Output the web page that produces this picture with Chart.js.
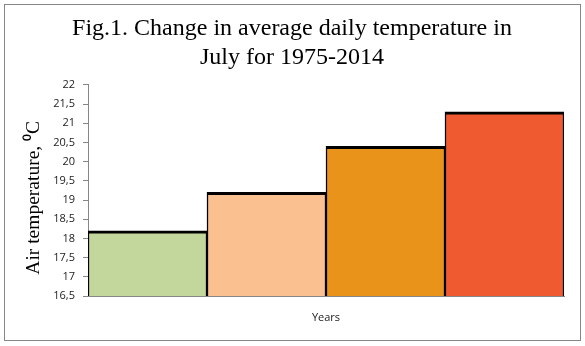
<!DOCTYPE html>
<html>
<head>
<meta charset="utf-8">
<script src="https://cdn.jsdelivr.net/npm/chart.js@4"></script>
<style>
  body { margin: 0; background: #fff; }
</style>
</head>
<body>
<canvas id="tempChart" width="585" height="346"></canvas>
<script>
// categories (periods, not labelled on the original chart)
const periods = ['I', 'II', 'III', 'IV'];
// average daily July temperature, °C
const temps = [18.2, 19.2, 20.4, 21.3];
const barColors = ['#c3d69b', '#fac090', '#e9931a', '#f05a31'];
const yMin = 16.5;
const yMax = 22;
const yStep = 0.5;

// gray frame around the whole picture
const framePlugin = {
    id: 'frame',
    beforeDraw(chart) {
        const ctx = chart.ctx;
        ctx.save();
        ctx.fillStyle = '#fff';
        ctx.fillRect(0, 0, chart.width, chart.height);
        ctx.strokeStyle = '#868686';
        ctx.lineWidth = 1;
        ctx.strokeRect(4.5, 4.5, 576, 336);
        ctx.restore();
    }
};

const ctx = document.getElementById('tempChart').getContext('2d');
new Chart(ctx, {
    type: 'bar',
    data: {
        labels: periods,
        datasets: [{
            data: temps,
            backgroundColor: barColors,
            borderColor: '#000',
            borderWidth: { top: 3, left: 1.5, right: 1.5, bottom: 0 },
            borderSkipped: 'start',
            categoryPercentage: 1,
            barPercentage: 1
        }]
    },
    options: {
        responsive: false,
        animation: false,
        layout: { padding: { left: 20, right: 21, top: 0, bottom: 0 } },
        plugins: {
            legend: { display: false },
            tooltip: { enabled: false },
            title: {
                display: true,
                text: ['Fig.1. Change in average daily temperature in', 'July for 1975-2014'],
                color: '#000',
                font: { family: 'Liberation Serif', size: 24, weight: 'normal', lineHeight: 1.208 },
                padding: { top: 14, bottom: 13 }
            }
        },
        scales: {
            x: {
                grid: { display: false },
                border: { color: '#868686', width: 1 },
                ticks: { display: false },
                title: {
                    display: true,
                    text: 'Years',
                    color: '#222',
                    font: { family: 'Open Sans', size: 11 },
                    padding: { top: 0, bottom: 21.4 }
                },
                afterFit(scale) { scale.height = 50; }
            },
            y: {
                min: yMin,
                max: yMax,
                grid: {
                    drawOnChartArea: false,
                    drawTicks: true,
                    tickLength: 5,
                    color: '#868686'
                },
                border: { color: '#868686', width: 1 },
                ticks: {
                    stepSize: yStep,
                    padding: 8,
                    color: '#222',
                    font: { family: 'Open Sans', size: 11 },
                    callback: v => String(v).replace('.', ',')
                },
                title: {
                    display: true,
                    text: 'Air temperature, \u2070C   ',
                    color: '#000',
                    font: { family: 'Liberation Serif', size: 19.5 },
                    padding: { top: 2, bottom: 0 }
                },
                afterFit(scale) { scale.width = 68; }
            }
        }
    },
    plugins: [framePlugin]
});
</script>
</body>
</html>
